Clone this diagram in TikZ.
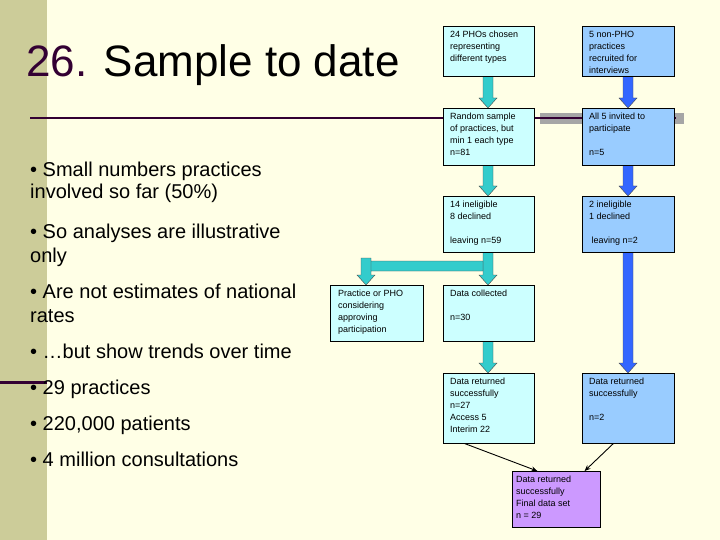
\documentclass[tikz,border=0pt]{standalone}
\usepackage{fontspec}
\setmainfont{Liberation Sans}
\usetikzlibrary{arrows.meta}
\definecolor{bgc}{HTML}{FFFFE6}
\definecolor{strip}{HTML}{CCCC99}
\definecolor{cyanbox}{HTML}{CCFFFF}
\definecolor{bluebox}{HTML}{99CCFF}
\definecolor{purbox}{HTML}{CC99FF}
\definecolor{teal}{HTML}{33CCCC}
\definecolor{blu}{HTML}{3366FF}
\definecolor{dpur}{HTML}{330033}
\tikzset{
 box/.style={draw=black, line width=0.6pt, anchor=north west, inner sep=0pt},
 txt/.style={anchor=north west, align=left, font=\fontsize{9}{12}\selectfont, inner sep=0pt},
 tarrow/.style={draw=black!70, line width=0.4pt, fill=teal},
 barrow/.style={draw=black!70, line width=0.4pt, fill=blu},
 bul/.style={anchor=base west, inner sep=0pt, font=\fontsize{20}{24}\selectfont}
}
\newcommand{\blockarrow}[4]{% style, x, ytop, ybottom
 \filldraw[#1] (#2-5,#3) -- (#2+5,#3) -- (#2+5,#4-10) -- (#2+9,#4-10) -- (#2,#4) -- (#2-9,#4-10) -- (#2-5,#4-10) -- cycle;}
\begin{document}
\begin{tikzpicture}[x=1pt,y=-1pt]
\fill[bgc] (0,0) rectangle (720,540);
\useasboundingbox (0,0) rectangle (720,540);
\fill[strip] (0,0) rectangle (47,540);
\fill[dpur] (0,381) rectangle (47,384);
\fill[black!35] (540,113) rectangle (684,124);
\draw[dpur, line width=1.5pt] (30,118) -- (676,118);
\node[anchor=base west, inner sep=0pt, font=\fontsize{44}{48}\selectfont] (title) at (26,77) {\textcolor{dpur}{26.} Sample to date};
\node[bul] (t1) at (30,177) {• Small numbers practices};
\node[bul] (t1b) at (30,199) {involved so far (50\%)};
\node[bul] (t2) at (30,238) {• So analyses are illustrative};
\node[bul] (t2b) at (30,262) {only};
\node[bul] (t3) at (30,298) {• Are not estimates of national};
\node[bul] (t3b) at (30,322) {rates};
\node[bul] (t4) at (30,358) {• …but show trends over time};
\node[bul] (t5) at (30,394) {• 29 practices};
\node[bul] (t6) at (30,430) {• 220,000 patients};
\node[bul] (t7) at (30,466) {• 4 million consultations};
% arrows (behind boxes)
\blockarrow{tarrow}{488}{76}{108}
\blockarrow{tarrow}{488}{165}{196}
\blockarrow{tarrow}{488}{252}{285}
\blockarrow{tarrow}{488}{341}{373}
\blockarrow{barrow}{628}{70}{108}
\blockarrow{barrow}{628}{165}{196}
\blockarrow{barrow}{628}{252}{373}
\filldraw[tarrow] (483,261) -- (371,261) -- (371,275) -- (375,275) -- (366,285) -- (357,275) -- (361,275) -- (361,261) -- (361,258) -- (371,258) -- (371,261) -- (483,261) -- (483,271) -- (371,271) -- (371,261);
% boxes
\node[box, fill=cyanbox, minimum width=91, minimum height=50] (b1) at (443,26) {};
\node[box, fill=bluebox, minimum width=92, minimum height=50] (b2) at (582,26) {};
\node[box, fill=cyanbox, minimum width=91, minimum height=57] (b3) at (443,108) {};
\node[box, fill=bluebox, minimum width=92, minimum height=57] (b4) at (582,108) {};
\node[box, fill=cyanbox, minimum width=91, minimum height=56] (b5) at (443,196) {};
\node[box, fill=bluebox, minimum width=92, minimum height=56] (b6) at (582,196) {};
\node[box, fill=cyanbox, minimum width=93, minimum height=56] (b7) at (330,285) {};
\node[box, fill=cyanbox, minimum width=91, minimum height=56] (b8) at (443,285) {};
\node[box, fill=cyanbox, minimum width=91, minimum height=70] (b9) at (443,373) {};
\node[box, fill=bluebox, minimum width=92, minimum height=70] (b10) at (582,373) {};
\node[box, fill=purbox, minimum width=88, minimum height=56] (b11) at (512,471) {};
\node[txt] (l1) at ([shift={(7,5)}]b1.north west) {24 PHOs chosen\\representing\\different types};
\node[txt] (l2) at ([shift={(7,5)}]b2.north west) {5 non-PHO\\practices\\recruited for\\interviews};
\node[txt] (l3) at ([shift={(7,5)}]b3.north west) {Random sample\\of practices, but\\min 1 each type\\n=81};
\node[txt] (l4) at ([shift={(7,5)}]b4.north west) {All 5 invited to\\participate\\[12pt]n=5};
\node[txt] (l5) at ([shift={(7,5)}]b5.north west) {14 ineligible\\8 declined\\[12pt]leaving n=59};
\node[txt] (l6) at ([shift={(7,5)}]b6.north west) {2 ineligible\\1 declined\\[12pt]\ leaving n=2};
\node[txt] (l7) at ([shift={(8,5)}]b7.north west) {Practice or PHO\\considering\\approving\\participation};
\node[txt] (l8) at ([shift={(7,5)}]b8.north west) {Data collected\\[12pt]n=30};
\node[txt] (l9) at ([shift={(7,5)}]b9.north west) {Data returned\\successfully\\n=27\\Access 5\\Interim 22};
\node[txt] (l10) at ([shift={(7,5)}]b10.north west) {Data returned\\successfully\\[12pt]n=2};
\node[txt] (l11) at ([shift={(4,5)}]b11.north west) {Data returned\\successfully\\Final data set\\n = 29};
\draw[-{Stealth[length=6pt,width=5pt]}, line width=0.9pt] ([xshift=-24]b9.south) -- ([xshift=-19]b11.north);
\draw[-{Stealth[length=6pt,width=5pt]}, line width=0.9pt] ([xshift=-15]b10.south) -- ([xshift=-16]b11.north east);
\end{tikzpicture}
\end{document}
